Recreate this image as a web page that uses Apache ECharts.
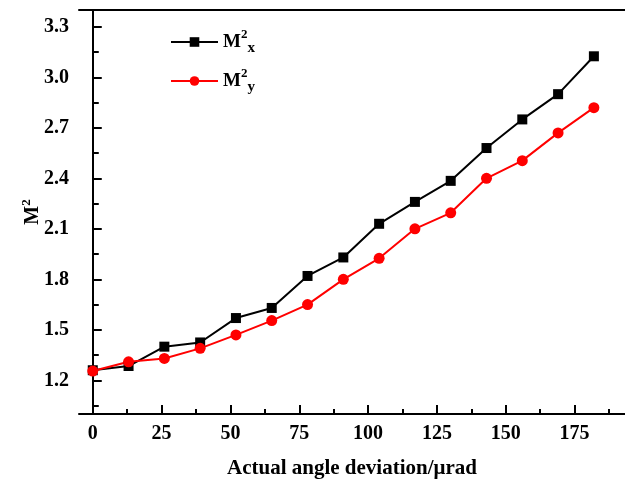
<!DOCTYPE html>
<html>
<head>
<meta charset="utf-8">
<script src="https://cdn.jsdelivr.net/npm/echarts@6/dist/echarts.min.js"></script>
<style>
html, body { margin: 0; padding: 0; background: #fff; }
#chart { width: 625px; height: 484px; }
</style>
</head>
<body>
<div id="chart"></div>
<script>
// angle deviation (urad)
var angles = [0, 13, 26, 39, 52, 65, 78, 91, 104, 117, 130, 143, 156, 169, 182];
// beam quality
var m2x = [1.26, 1.285, 1.40, 1.425, 1.57, 1.63, 1.82, 1.93, 2.13, 2.26, 2.385, 2.58, 2.75, 2.90, 3.125];
var m2y = [1.255, 1.31, 1.33, 1.39, 1.47, 1.555, 1.65, 1.80, 1.925, 2.10, 2.195, 2.40, 2.505, 2.67, 2.82];
// ticks
var xTicks = [0, 25, 50, 75, 100, 125, 150, 175];
var xMinor = [12.5, 37.5, 62.5, 87.5, 112.5, 137.5, 162.5, 187.5];
var yTicks = [1.2, 1.5, 1.8, 2.1, 2.4, 2.7, 3.0, 3.3];
var yMinor = [1.05, 1.35, 1.65, 1.95, 2.25, 2.55, 2.85, 3.15];

var font = 'Liberation Serif';
var lineStyle = { color: '#000', width: 2 };

function pairs(ys) {
	return angles.map(function (a, i) { return [a, ys[i]]; });
}

var chartObj = echarts.init(document.getElementById('chart'));

var option = {
	animation: false,
	grid: { left: 79, top: 10, right: 0, bottom: 67 },
	legend: {
		orient: 'vertical',
		left: 165,
		top: 23,
		itemWidth: 47,
		itemHeight: 12,
		itemGap: 11,
		data: ['x', 'y'],
		formatter: function (name) {
			return '{m|M}{sup|2}{sub|' + name + '}';
		},
		textStyle: {
			fontFamily: font,
			fontWeight: 'bold',
			color: '#000',
			rich: {
				m: { fontFamily: font, fontWeight: 'bold', fontSize: 19, lineHeight: 28, color: '#000' },
				sup: { fontFamily: font, fontWeight: 'bold', fontSize: 13, lineHeight: 13, verticalAlign: 'top', color: '#000' },
				sub: { fontFamily: font, fontWeight: 'bold', fontSize: 15, lineHeight: 20, verticalAlign: 'bottom', color: '#000' }
			}
		}
	},
	xAxis: [
		{
			type: 'value',
			min: -5,
			max: 193.3,
			name: 'Actual angle deviation/μrad',
			nameLocation: 'middle',
			nameGap: 44,
			nameTextStyle: { fontFamily: font, fontWeight: 'bold', fontSize: 21, color: '#000' },
			splitLine: { show: false },
			axisLine: { lineStyle: lineStyle },
			axisTick: { inside: true, length: 9, lineStyle: lineStyle, customValues: xTicks },
			axisLabel: { fontFamily: font, fontWeight: 'bold', fontSize: 20, color: '#000', margin: 10, customValues: xTicks }
		},
		{
			type: 'value',
			min: -5,
			max: 193.3,
			position: 'bottom',
			splitLine: { show: false },
			axisLine: { show: false },
			axisTick: { inside: true, length: 5, lineStyle: lineStyle, customValues: xMinor },
			axisLabel: { show: false }
		},
		{
			type: 'value',
			min: -5,
			max: 193.3,
			position: 'top',
			splitLine: { show: false },
			axisLine: { lineStyle: lineStyle },
			axisTick: { show: false },
			axisLabel: { show: false }
		}
	],
	yAxis: [
		{
			type: 'value',
			min: 1.0,
			max: 3.4,
			name: '{m|M}{sup|2}',
			nameLocation: 'middle',
			nameRotate: 90,
			nameGap: 33,
			nameMoveOverlap: false,
			nameTextStyle: {
				color: '#000',
				rich: {
					m: { fontFamily: font, fontWeight: 'bold', fontSize: 20, lineHeight: 26, color: '#000' },
					sup: { fontFamily: font, fontWeight: 'bold', fontSize: 13, lineHeight: 13, verticalAlign: 'top', color: '#000' }
				}
			},
			splitLine: { show: false },
			axisLine: { lineStyle: lineStyle },
			axisTick: { inside: true, length: 9, lineStyle: lineStyle, customValues: yTicks },
			axisLabel: {
				fontFamily: font, fontWeight: 'bold', fontSize: 20, color: '#000', margin: 10,
				customValues: yTicks,
				formatter: function (v) { return v.toFixed(1); }
			}
		},
		{
			type: 'value',
			min: 1.0,
			max: 3.4,
			position: 'left',
			splitLine: { show: false },
			axisLine: { show: false },
			axisTick: { inside: true, length: 6, lineStyle: lineStyle, customValues: yMinor },
			axisLabel: { show: false }
		}
	],
	series: [
		{
			name: 'x',
			type: 'line',
			data: pairs(m2x),
			symbol: 'rect',
			symbolSize: 10,
			itemStyle: { color: '#000' },
			lineStyle: { color: '#000', width: 2 }
		},
		{
			name: 'y',
			type: 'line',
			data: pairs(m2y),
			symbol: 'circle',
			symbolSize: 11,
			itemStyle: { color: '#ff0000' },
			lineStyle: { color: '#ff0000', width: 2 }
		}
	]
};
chartObj.setOption(option);
</script>
</body>
</html>
